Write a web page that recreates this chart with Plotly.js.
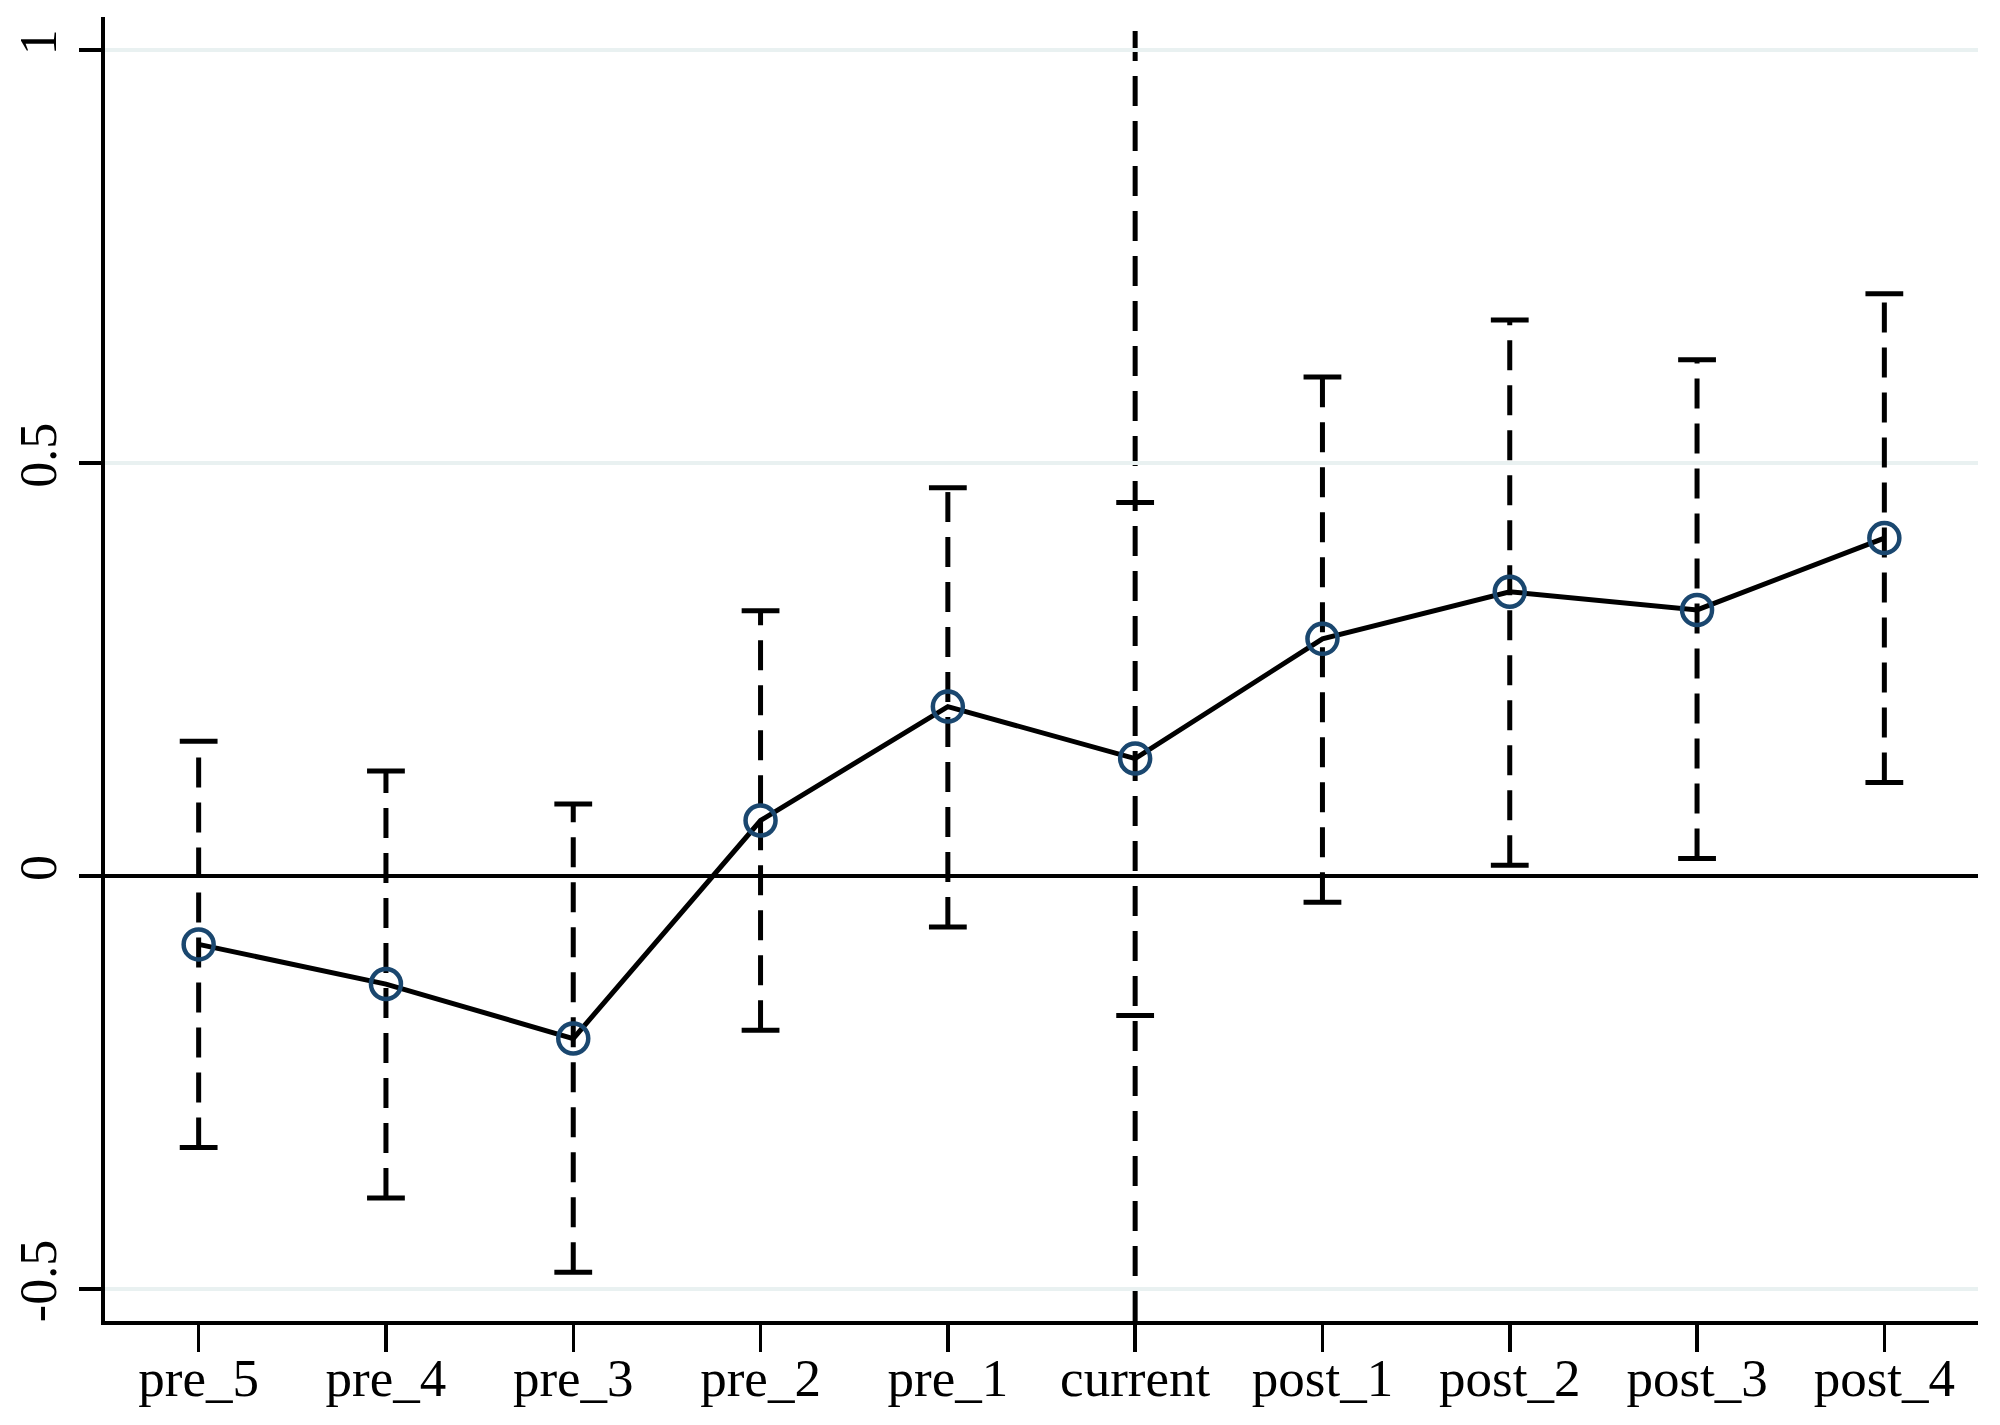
<!DOCTYPE html>
<html>
<head>
<meta charset="utf-8">
<script src="https://cdn.plot.ly/plotly-3.0.1.min.js"></script>
<style>html,body{margin:0;padding:0;background:#fff;}#chart{width:2000px;height:1425px;}</style>
</head>
<body>
<div id="chart"></div>
<script>
const categories = ["pre_5","pre_4","pre_3","pre_2","pre_1","current","post_1","post_2","post_3","post_4"];
const coef  = [-0.083,-0.131,-0.197, 0.067, 0.205, 0.142, 0.287, 0.344, 0.322, 0.409];
const upper = [ 0.163, 0.127, 0.087, 0.321, 0.470, 0.452, 0.604, 0.673, 0.625, 0.705];
const lower = [-0.329,-0.390,-0.480,-0.187,-0.062,-0.169,-0.032, 0.013, 0.021, 0.113];
const yTicks = [-0.5, 0, 0.5, 1];
const yTickText = ["-0.5","0","0.5","1"];
const eventCategory = "current";

// CI dashed segments (the event period is covered by the full-height dashed reference line)
const ciX = [], ciY = [];
categories.forEach((c,i)=>{ if (c !== eventCategory) { ciX.push(c,c,null); ciY.push(lower[i],upper[i],null); } });
const capX = categories.concat(categories);
const capY = lower.concat(upper);

const traces = [
  {type:"scatter", mode:"lines", x:ciX, y:ciY, hoverinfo:"skip",
   line:{color:"#000", width:5, dash:"30px,15px"}, showlegend:false},
  {type:"scatter", mode:"markers", x:capX, y:capY, hoverinfo:"skip",
   marker:{symbol:"line-ew", size:27, line:{color:"#000", width:5}}, showlegend:false},
  {type:"scatter", mode:"lines", x:categories, y:coef,
   line:{color:"#000", width:5}, showlegend:false},
  {type:"scatter", mode:"markers", x:categories, y:coef,
   marker:{symbol:"circle-open", size:30, color:"#1a476f", line:{color:"#1a476f", width:4.5}}, showlegend:false}
];

const layout = {
  width:2000, height:1425,
  margin:{l:105, r:22, t:17, b:104},
  paper_bgcolor:"#fff", plot_bgcolor:"#fff",
  font:{family:"Liberation Serif, Times New Roman, serif", color:"#000", size:52},
  showlegend:false,
  xaxis:{type:"category", categoryorder:"array", categoryarray:categories,
    range:[-0.5, 9.5], showgrid:false, zeroline:false,
    showline:true, linecolor:"#000", linewidth:4,
    ticks:"outside", ticklen:27, tickwidth:3.5, tickcolor:"#000",
    tickfont:{size:53}, ticklabelstandoff:-20},
  yaxis:{range:[-0.539, 1.04], tickvals:yTicks, ticktext:yTickText,
    showgrid:true, gridcolor:"#e9f1f1", gridwidth:3.5,
    zeroline:true, zerolinecolor:"#000", zerolinewidth:4,
    showline:true, linecolor:"#000", linewidth:4,
    ticks:"outside", ticklen:22, tickwidth:3.5, tickcolor:"#000",
    tickangle:-90, tickfont:{size:52}, ticklabelstandoff:2},
  shapes:[{type:"line", xref:"x", yref:"paper", x0:eventCategory, x1:eventCategory, y0:0, y1:1,
    line:{color:"#000", width:5, dash:"30px,15px"}, layer:"below"}]
};

Plotly.newPlot("chart", traces, layout, {displayModeBar:false, staticPlot:true});
</script>
</body>
</html>
